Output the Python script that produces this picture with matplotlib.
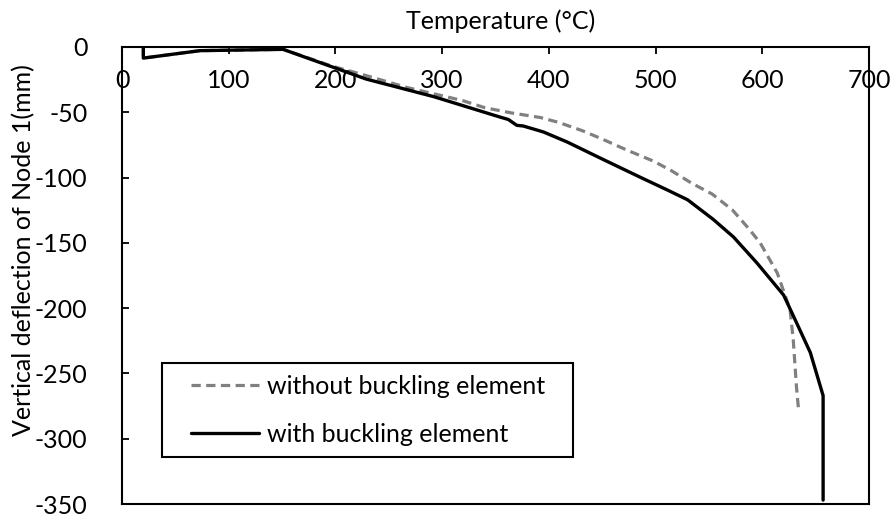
import matplotlib
matplotlib.use("Agg")
import matplotlib.pyplot as plt
from matplotlib.legend_handler import HandlerLine2D
from matplotlib.lines import Line2D

plt.rcParams['font.family'] = ['Lato', 'DejaVu Sans']
plt.rcParams['axes.unicode_minus'] = False

# Data
temp_without = [20, 20, 73, 151, 197, 225, 246, 267, 293, 319, 340, 365, 392, 409,
                432, 450, 473, 498, 515, 534, 553, 572, 587, 598, 614, 626, 629, 632, 634]
defl_without = [0, -8.5, -2.8, -1.8, -14.7, -21, -26, -31, -36, -41, -46.5, -50.5, -54,
                -57.7, -64.3, -70.5, -78.9, -87.4, -94.8, -104.4, -112.6, -124.8, -138.8,
                -150, -173, -201, -224, -260, -278]

temp_with = [20, 20, 73, 151, 192, 229, 292, 354, 362, 370, 376, 395, 417, 448, 485,
             511, 530, 554, 573, 595, 620, 632, 645, 657, 657]
defl_with = [0, -8.5, -2.8, -1.8, -13.8, -24.6, -38, -53.6, -55.5, -60, -60.5, -65.1,
             -72.7, -85, -99.5, -109.5, -117, -132, -145.5, -165.4, -190, -211, -234,
             -267, -347]

x_ticks = [0, 100, 200, 300, 400, 500, 600, 700]
y_ticks = [0, -50, -100, -150, -200, -250, -300, -350]
label_without = "without buckling element"
label_with = "with buckling element"

FS = 18

fig = plt.figure(figsize=(8.9, 5.18), dpi=100)
ax = fig.add_axes([122 / 890, (518 - 504) / 518, 747 / 890, 457 / 518])

ax.plot(temp_without, defl_without, color='#808080', lw=2.3,
        linestyle=(0, (2.9, 1.7)), label=label_without)
ax.plot(temp_with, defl_with, color='black', lw=2.4,
        solid_joinstyle='round', solid_capstyle='round', label=label_with)

ax.set_xlim(0, 700)
ax.set_ylim(-350, 0)
ax.set_xticks(x_ticks)
ax.set_yticks(y_ticks)

# x axis drawn at y=0 (top), frame line at bottom
ax.spines['bottom'].set_position(('data', 0))
ax.spines['top'].set_position(('data', -350))
for s in ax.spines.values():
    s.set_linewidth(1.5)
    s.set_color('black')

ax.tick_params(axis='x', direction='out', length=5, width=1.3, labelsize=FS, pad=11,
               bottom=True, top=False)
ax.tick_params(axis='y', direction='in', length=5, width=1.3, labelsize=FS, pad=25)

ax.set_xlabel("Temperature (\u00b0C)", fontsize=FS)
ax.xaxis.set_label_coords(0.507, 1.039)
ax.xaxis.label.set_va('baseline')

ax.set_ylabel("Vertical deflection of Node 1(mm)", fontsize=FS)
ax.yaxis.set_label_coords(-0.131, 0.556)
ax.yaxis.label.set_va('center')

leg = ax.legend(loc='lower left', bbox_to_anchor=(0.054, 0.103, 0.550, 0.2),
                mode='expand', borderaxespad=0,
                fontsize=FS, frameon=True, fancybox=False, edgecolor='black',
                handlelength=3.42, handletextpad=0.32, labelspacing=1.0,
                borderpad=0.45,
                handler_map={Line2D: HandlerLine2D(xpad=0.7)})
leg.get_frame().set_linewidth(1.5)
leg.get_frame().set_alpha(1)

fig.savefig("out.png", dpi=100)
